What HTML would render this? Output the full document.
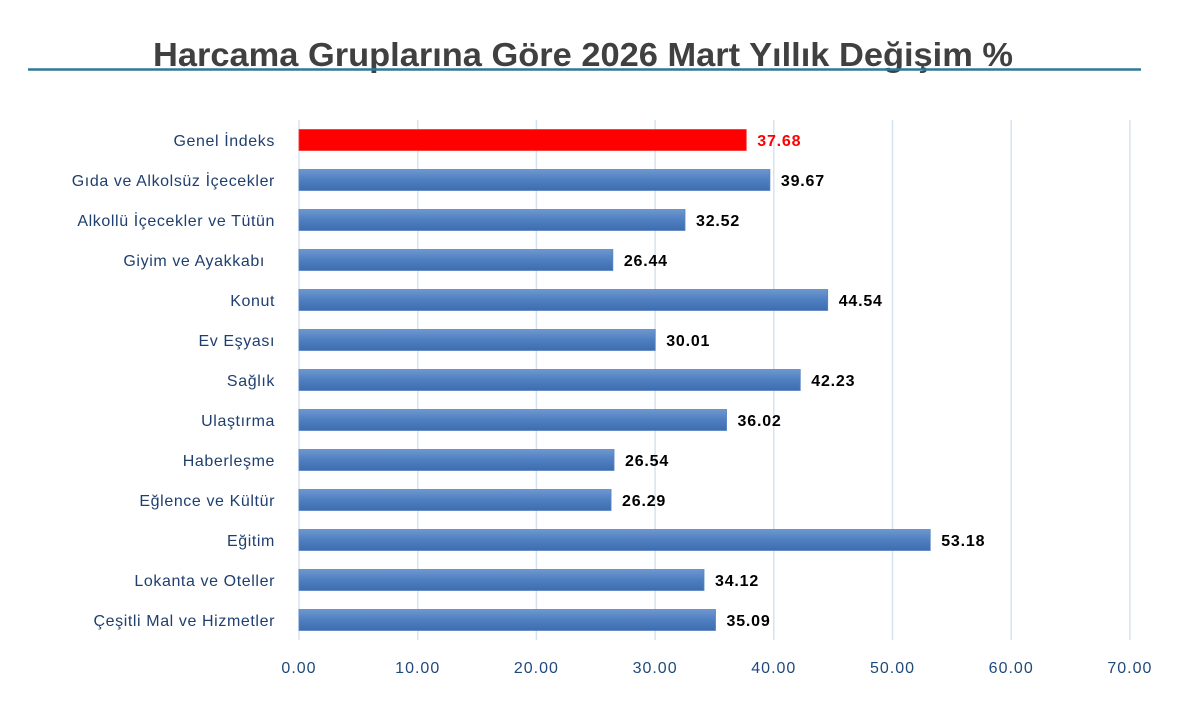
<!DOCTYPE html>
<html><head><meta charset="utf-8"><style>
body{margin:0;background:#fff;}
</style></head><body>
<svg width="1186" height="700" xmlns="http://www.w3.org/2000/svg" font-family="Liberation Sans, sans-serif">
<defs>
<linearGradient id="g" x1="0" y1="0" x2="0" y2="1">
<stop offset="0" stop-color="#6d97cf"/><stop offset="0.5" stop-color="#4f7fc0"/><stop offset="1" stop-color="#3c6db0"/>
</linearGradient>
</defs>
<text x="583" y="66" text-anchor="middle" font-size="33" font-weight="bold" fill="#404040" textLength="860" lengthAdjust="spacingAndGlyphs">Harcama Gruplarına Göre 2026 Mart Yıllık Değişim %</text>
<line x1="28" y1="69.5" x2="1141" y2="69.5" stroke="#2b7a99" stroke-width="2.5"/>
<g stroke="#d5e2f0" stroke-width="1.5">
<line x1="299" y1="120" x2="299" y2="640"/>
<line x1="417.7" y1="120" x2="417.7" y2="640"/>
<line x1="536.4" y1="120" x2="536.4" y2="640"/>
<line x1="655.1" y1="120" x2="655.1" y2="640"/>
<line x1="773.8" y1="120" x2="773.8" y2="640"/>
<line x1="892.5" y1="120" x2="892.5" y2="640"/>
<line x1="1011.2" y1="120" x2="1011.2" y2="640"/>
<line x1="1129.9" y1="120" x2="1129.9" y2="640"/>
</g>
<g font-size="16" fill="#1f497d" text-anchor="middle" letter-spacing="1">
<text x="299" y="673">0.00</text><text x="417.7" y="673">10.00</text><text x="536.4" y="673">20.00</text><text x="655.1" y="673">30.00</text><text x="773.8" y="673">40.00</text><text x="892.5" y="673">50.00</text><text x="1011.2" y="673">60.00</text><text x="1129.9" y="673">70.00</text>
</g>
<g id="bars"></g>
</svg>
<script>
var d=[["Genel İndeks",37.68],["Gıda ve Alkolsüz İçecekler",39.67],["Alkollü İçecekler ve Tütün",32.52],["Giyim ve Ayakkabı ",26.44],["Konut",44.54],["Ev Eşyası",30.01],["Sağlık",42.23],["Ulaştırma",36.02],["Haberleşme",26.54],["Eğlence ve Kültür",26.29],["Eğitim",53.18],["Lokanta ve Oteller",34.12],["Çeşitli Mal ve Hizmetler",35.09]];
var s="";
d.forEach(function(r,i){var c=140+40*i,w=r[1]*11.87;
var red=i==0;
s+='<rect x="299" y="'+(c-10.5)+'" width="'+w+'" height="21" fill="'+(red?'#ff0000':'url(#g)')+'" stroke="'+(red?'#ff3030':'#5a86c0')+'" stroke-width="0.8"/>';
s+='<text x="275" y="'+(c+6)+'" text-anchor="end" font-size="16" letter-spacing="0.6" fill="#1f3f6e">'+r[0].replace(/ $/,'\u00a0\u00a0')+'</text>';
s+='<text x="'+(299+w+11)+'" y="'+(c+6)+'" font-size="16" letter-spacing="0.8" font-weight="bold" fill="'+(red?'#ff0000':'#000')+'">'+r[1].toFixed(2)+'</text>';});
document.getElementById("bars").innerHTML=s;
</script>
</body></html>
